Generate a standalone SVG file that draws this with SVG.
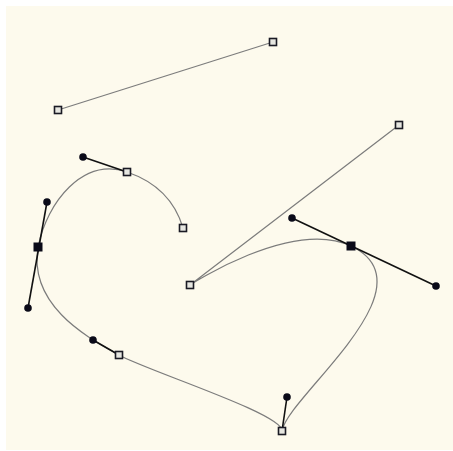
<svg xmlns="http://www.w3.org/2000/svg" width="453" height="451" viewBox="0 0 453 451">
  <defs>
    <style>
      .curve { fill: none; stroke: #7c7c7c; stroke-width: 1.2; }
      .handle { fill: none; stroke: #111; stroke-width: 1.6; }
      .end { fill: #e6e6e0; stroke: #1a1a24; stroke-width: 1.6; }
      .smooth { fill: #0a0a18; stroke: none; }
      .ctrl { fill: #0a0a18; stroke: none; }
    </style>
    <rect id="endpt" class="end" x="-3.5" y="-3.5" width="7" height="7"/>
    <rect id="smoothpt" class="smooth" x="-4.5" y="-4.5" width="9" height="9"/>
    <circle id="ctrlpt" class="ctrl" r="3.8"/>
  </defs>
  <rect x="0" y="0" width="453" height="451" fill="#ffffff"/>
  <rect x="6" y="6" width="447" height="444" fill="#fdfaed"/>

  <g id="connectors">
    <path class="curve" d="M58,110 L273,42"/>
    <path class="curve" d="M399,125 L190,285 C190,285 292,218 351,246 C436,286 287,397 282,431 C284,414 145,370 119,355 C93,340 28,308 38,247 C47,202 83,157 127,172 Q171,187 183,228"/>
    <path class="handle" d="M292,218 L436,286"/>
    <path class="handle" d="M282,431 L287,397"/>
    <path class="handle" d="M119,355 L93,340"/>
    <path class="handle" d="M47,202 L28,308"/>
    <path class="handle" d="M127,172 L83,157"/>
  </g>

  <g id="line-start"><use href="#endpt" x="58" y="110"/></g>
  <g id="line-end"><use href="#endpt" x="273" y="42"/></g>
  <g id="path-start"><use href="#endpt" x="399" y="125"/></g>
  <g id="cusp-left"><use href="#endpt" x="190" y="285"/></g>
  <g id="smooth-right"><use href="#smoothpt" x="351" y="246"/></g>
  <g id="ctrl-right-a"><use href="#ctrlpt" x="292" y="218"/></g>
  <g id="ctrl-right-b"><use href="#ctrlpt" x="436" y="286"/></g>
  <g id="cusp-bottom"><use href="#endpt" x="282" y="431"/></g>
  <g id="ctrl-bottom"><use href="#ctrlpt" x="287" y="397"/></g>
  <g id="point-lower-left"><use href="#endpt" x="119" y="355"/></g>
  <g id="ctrl-lower-left"><use href="#ctrlpt" x="93" y="340"/></g>
  <g id="smooth-left"><use href="#smoothpt" x="38" y="247"/></g>
  <g id="ctrl-left-a"><use href="#ctrlpt" x="47" y="202"/></g>
  <g id="ctrl-left-b"><use href="#ctrlpt" x="28" y="308"/></g>
  <g id="point-top"><use href="#endpt" x="127" y="172"/></g>
  <g id="ctrl-top"><use href="#ctrlpt" x="83" y="157"/></g>
  <g id="path-end"><use href="#endpt" x="183" y="228"/></g>
</svg>
